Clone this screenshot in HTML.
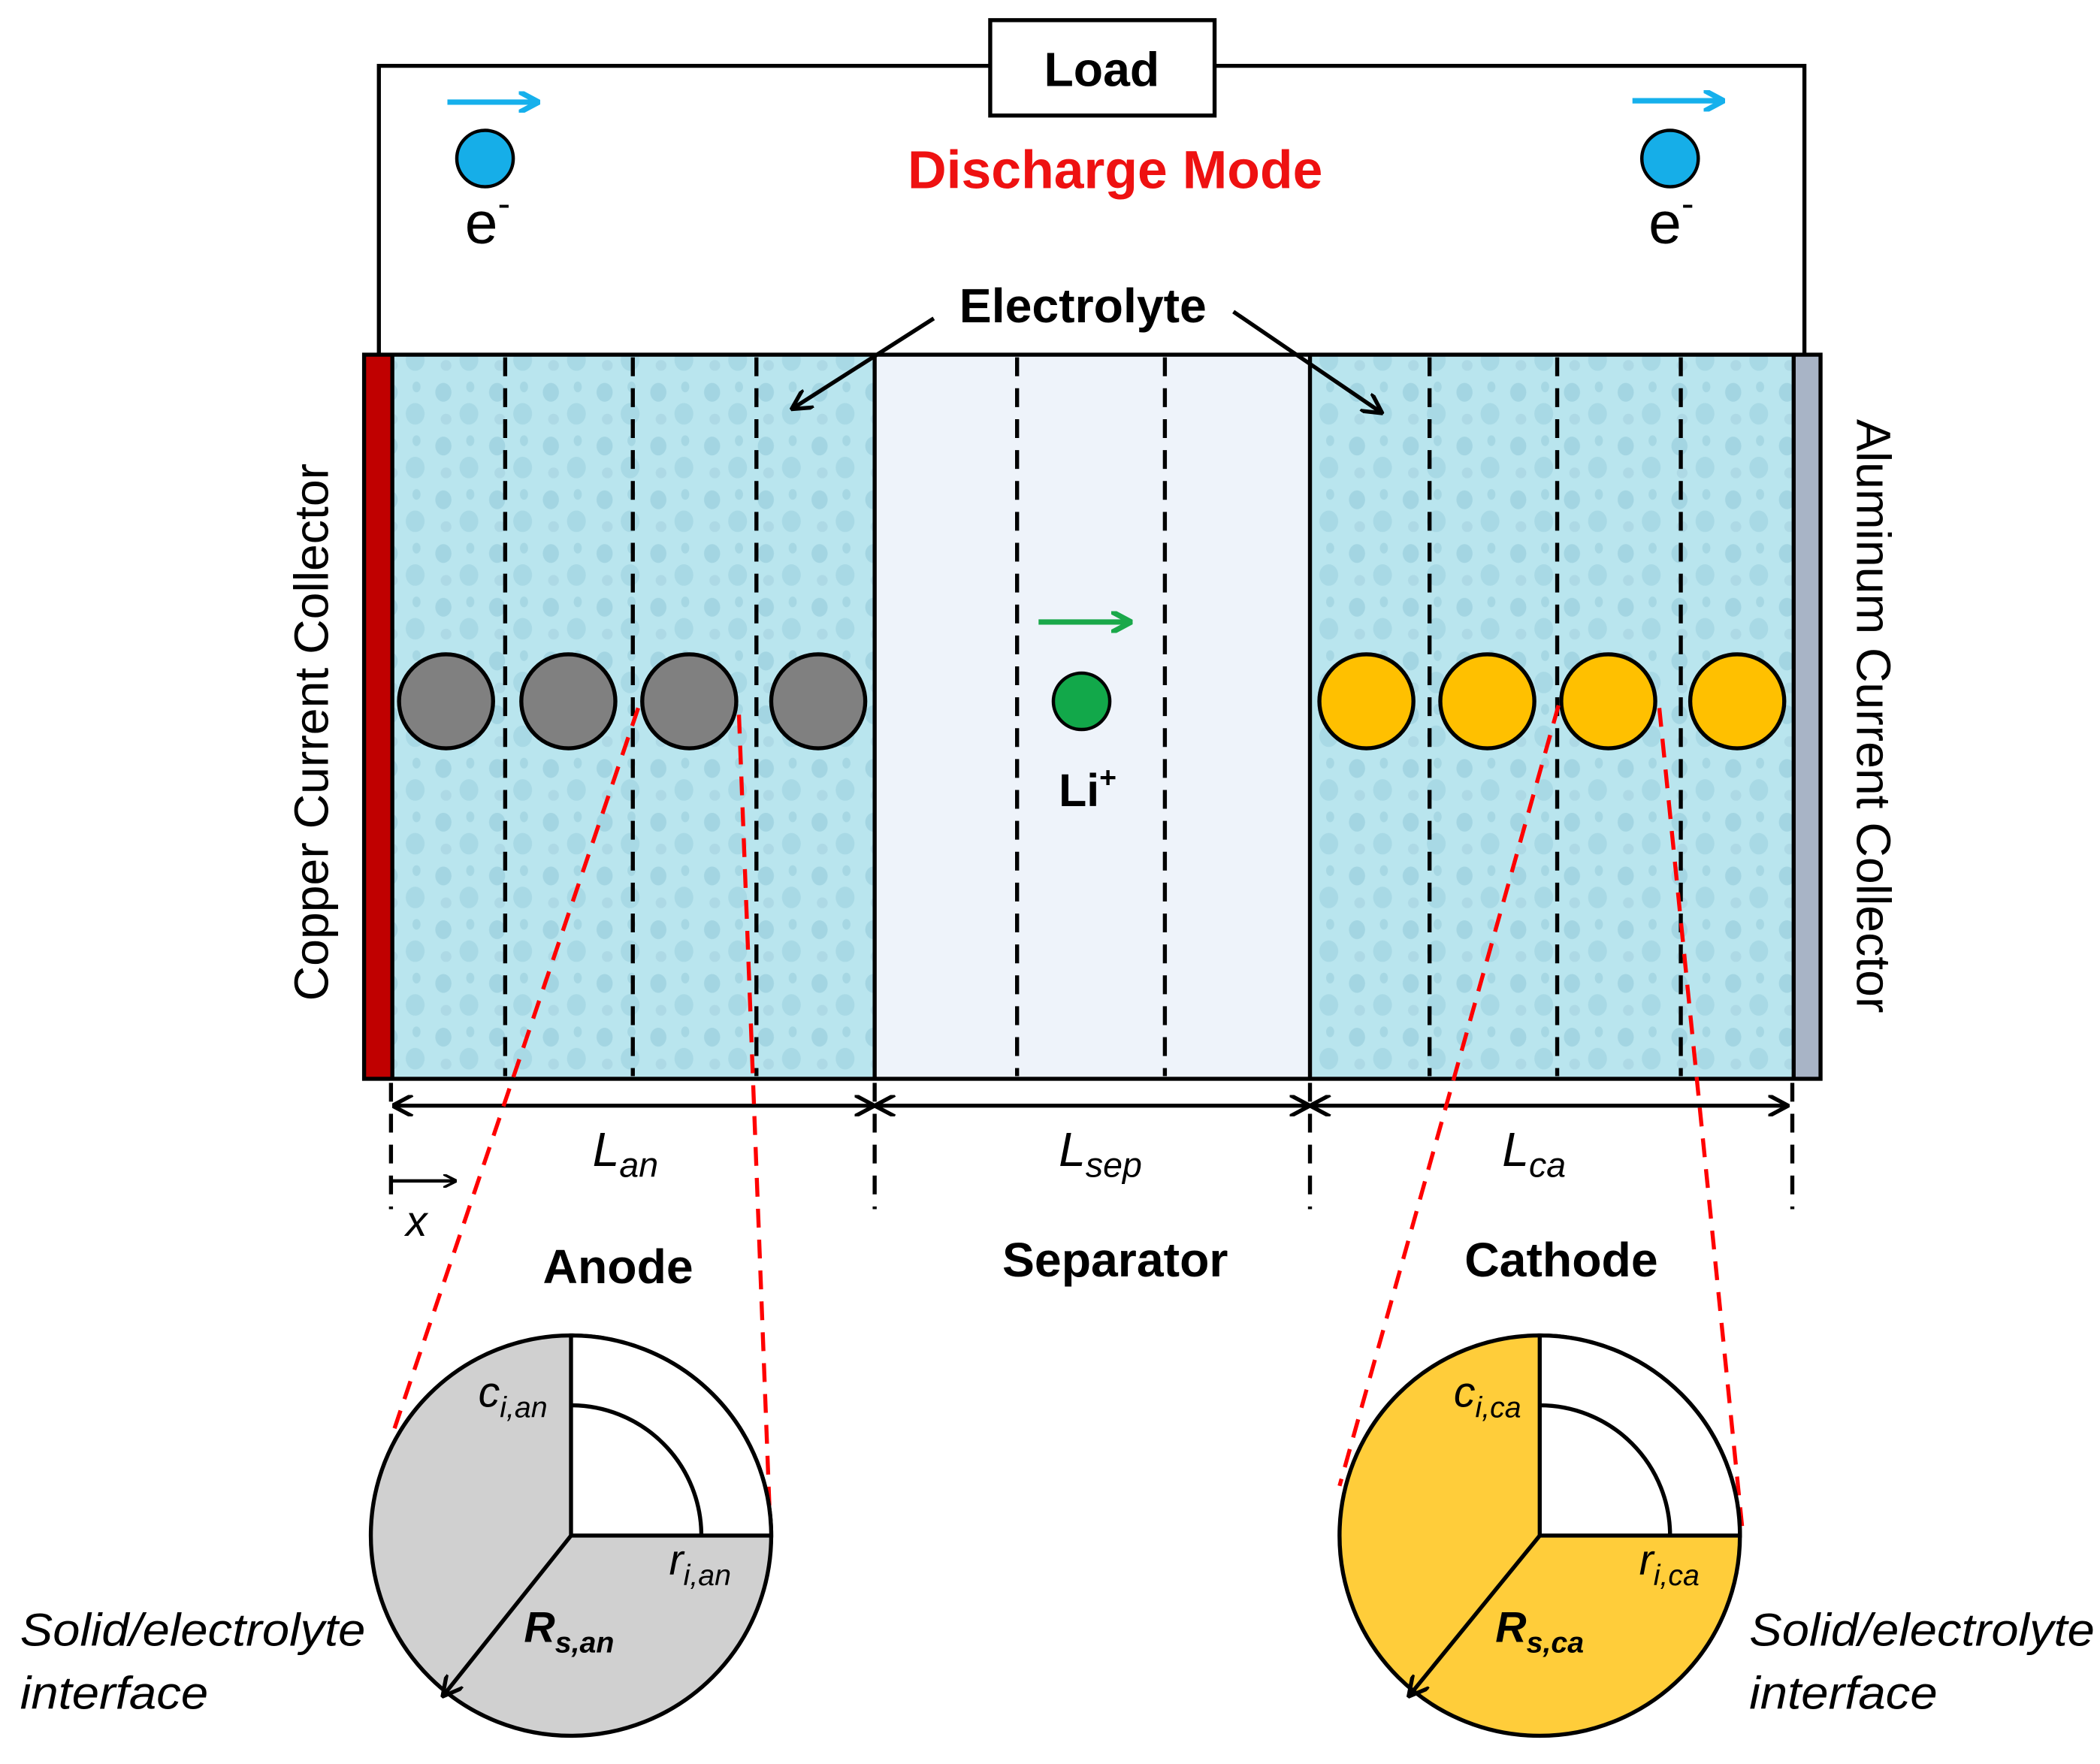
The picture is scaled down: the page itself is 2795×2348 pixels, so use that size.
<!DOCTYPE html>
<html><head><meta charset="utf-8"><style>
html,body{margin:0;padding:0;background:#fff;}
svg{display:block;}
text{font-family:"Liberation Sans",sans-serif;}
</style></head><body>
<svg width="2795" height="2348" viewBox="0 0 1563 1313" preserveAspectRatio="none" xmlns="http://www.w3.org/2000/svg">
<defs>
<marker id="ab" markerWidth="10" markerHeight="10" refX="9" refY="5" orient="auto" markerUnits="userSpaceOnUse"><path d="M0,0 L10,5 L0,10" fill="none" stroke="#000" stroke-width="2"/></marker>
<marker id="ab2" markerWidth="16" markerHeight="16" refX="14" refY="8" orient="auto" markerUnits="userSpaceOnUse"><path d="M0,0 L15,8 L0,16" fill="none" stroke="#000" stroke-width="3"/></marker>
<marker id="ab2s" markerWidth="16" markerHeight="16" refX="1" refY="8" orient="auto" markerUnits="userSpaceOnUse"><path d="M15,0 L0,8 L15,16" fill="none" stroke="#000" stroke-width="3"/></marker>
<marker id="bl" markerWidth="16" markerHeight="16" refX="14" refY="8" orient="auto" markerUnits="userSpaceOnUse"><path d="M0,0 L15,8 L0,16" fill="none" stroke="#16b0ec" stroke-width="4"/></marker>
<marker id="gr" markerWidth="16" markerHeight="16" refX="14" refY="8" orient="auto" markerUnits="userSpaceOnUse"><path d="M0,0 L15,8 L0,16" fill="none" stroke="#1aa84a" stroke-width="4"/></marker>
<pattern id="drops" width="40" height="40" patternUnits="userSpaceOnUse">
<rect width="40" height="40" fill="#b9e5ee"/>
<ellipse cx="10" cy="12" rx="6" ry="7" fill="#a3d5e2"/>
<ellipse cx="29" cy="28" rx="7" ry="8" fill="#a8d9e5"/>
<ellipse cx="30" cy="8" rx="3" ry="4" fill="#a6d7e3"/>
<ellipse cx="12" cy="32" rx="4" ry="4" fill="#add9e5"/>
</pattern>
</defs>

<polyline points="282,263 282,49 737,49" fill="none" stroke="#000" stroke-width="3"/>
<polyline points="904,49 1343,49 1343,263" fill="none" stroke="#000" stroke-width="3"/>
<rect x="737" y="15" width="167" height="71" fill="#fff" stroke="#000" stroke-width="3"/>
<text x="820" y="64" font-size="36" font-weight="bold" text-anchor="middle">Load</text>
<text x="830" y="140" font-size="40" font-weight="bold" fill="#ee1111" text-anchor="middle">Discharge Mode</text>

<line x1="333" y1="76" x2="400" y2="76" stroke="#16b0ec" stroke-width="4" marker-end="url(#bl)"/>
<circle cx="361" cy="118" r="21" fill="#16aee8" stroke="#000" stroke-width="2.5"/>
<text x="346" y="181" font-size="44">e<tspan font-size="28" dy="-20">-</tspan></text>
<line x1="1215" y1="75" x2="1282" y2="75" stroke="#16b0ec" stroke-width="4" marker-end="url(#bl)"/>
<circle cx="1243" cy="118" r="21" fill="#16aee8" stroke="#000" stroke-width="2.5"/>
<text x="1227" y="181" font-size="44">e<tspan font-size="28" dy="-20">-</tspan></text>

<rect x="292" y="264" width="359" height="539" fill="url(#drops)"/>
<rect x="651" y="264" width="324" height="539" fill="#eef3fa"/>
<rect x="975" y="264" width="360" height="539" fill="url(#drops)"/>
<rect x="271" y="264" width="21" height="539" fill="#c00000"/>
<rect x="1335" y="264" width="20" height="539" fill="#a8b4c6"/>
<rect x="271" y="264" width="1084" height="539" fill="none" stroke="#000" stroke-width="3"/>
<line x1="292" y1="264" x2="292" y2="803" stroke="#000" stroke-width="3"/>
<line x1="651" y1="264" x2="651" y2="803" stroke="#000" stroke-width="3"/>
<line x1="975" y1="264" x2="975" y2="803" stroke="#000" stroke-width="3"/>
<line x1="1335" y1="264" x2="1335" y2="803" stroke="#000" stroke-width="3"/>
<g stroke="#000" stroke-width="3" stroke-dasharray="14,9">
<line x1="376" y1="266" x2="376" y2="801"/>
<line x1="471" y1="266" x2="471" y2="801"/>
<line x1="563" y1="266" x2="563" y2="801"/>
<line x1="757" y1="266" x2="757" y2="801"/>
<line x1="867" y1="266" x2="867" y2="801"/>
<line x1="1064" y1="266" x2="1064" y2="801"/>
<line x1="1159" y1="266" x2="1159" y2="801"/>
<line x1="1251" y1="266" x2="1251" y2="801"/>
</g>

<g fill="#808080" stroke="#000" stroke-width="3">
<circle cx="332" cy="522" r="35"/><circle cx="423" cy="522" r="35"/><circle cx="513" cy="522" r="35"/><circle cx="609" cy="522" r="35"/>
</g>
<g fill="#ffc000" stroke="#000" stroke-width="3">
<circle cx="1017" cy="522" r="35"/><circle cx="1107" cy="522" r="35"/><circle cx="1197" cy="522" r="35"/><circle cx="1293" cy="522" r="35"/>
</g>
<line x1="773" y1="463" x2="841" y2="463" stroke="#1aa84a" stroke-width="4" marker-end="url(#gr)"/>
<circle cx="805" cy="522" r="21" fill="#12a84a" stroke="#000" stroke-width="2.5"/>
<text x="788" y="600" font-size="34" font-weight="bold">Li<tspan font-size="22" dy="-14">+</tspan></text>

<text x="806" y="240" font-size="36" font-weight="bold" text-anchor="middle">Electrolyte</text>
<line x1="695" y1="237" x2="590" y2="304" stroke="#000" stroke-width="3" marker-end="url(#ab2)"/>
<line x1="918" y1="232" x2="1028" y2="307" stroke="#000" stroke-width="3" marker-end="url(#ab2)"/>

<text transform="translate(244,545) rotate(-90)" font-size="36" text-anchor="middle">Copper Current Collector</text>
<text transform="translate(1382,533) rotate(90)" font-size="36" text-anchor="middle">Aluminum Current Collector</text>

<g stroke="#000" stroke-width="3">
<line x1="293" y1="823" x2="650" y2="823" marker-end="url(#ab2)" marker-start="url(#ab2s)"/>
<line x1="652" y1="823" x2="974" y2="823" marker-end="url(#ab2)" marker-start="url(#ab2s)"/>
<line x1="976" y1="823" x2="1330" y2="823" marker-end="url(#ab2)" marker-start="url(#ab2s)"/>
</g>
<g stroke="#000" stroke-width="3" stroke-dasharray="14,9">
<line x1="291" y1="806" x2="291" y2="900"/>
<line x1="651" y1="806" x2="651" y2="900"/>
<line x1="975" y1="806" x2="975" y2="900"/>
<line x1="1334" y1="806" x2="1334" y2="900"/>
</g>
<text x="441" y="868" font-size="36" font-style="italic">L<tspan font-size="26" dy="8">an</tspan></text>
<text x="788" y="868" font-size="36" font-style="italic">L<tspan font-size="26" dy="8">sep</tspan></text>
<text x="1118" y="868" font-size="36" font-style="italic">L<tspan font-size="26" dy="8">ca</tspan></text>
<line x1="292" y1="879" x2="339" y2="879" stroke="#000" stroke-width="2.5" marker-end="url(#ab)"/>
<text x="302" y="920" font-size="32" font-style="italic">x</text>

<text x="460" y="955" font-size="36" font-weight="bold" text-anchor="middle">Anode</text>
<text x="830" y="950" font-size="36" font-weight="bold" text-anchor="middle">Separator</text>
<text x="1162" y="950" font-size="36" font-weight="bold" text-anchor="middle">Cathode</text>

<g stroke="#ff0000" stroke-width="3" stroke-dasharray="14,9">
<line x1="475" y1="527" x2="292" y2="1068"/>
<line x1="550" y1="532" x2="573" y2="1130"/>
<line x1="1160" y1="525" x2="997" y2="1106"/>
<line x1="1235" y1="527" x2="1297" y2="1140"/>
</g>

<circle cx="425" cy="1143" r="149" fill="#d0d0d0" stroke="#000" stroke-width="3"/>
<path d="M425,1143 L425,994 A149,149 0 0 1 574,1143 Z" fill="#fff" stroke="#000" stroke-width="3"/>
<path d="M425,1046 A97,97 0 0 1 522,1143" fill="none" stroke="#000" stroke-width="3"/>
<line x1="425" y1="1143" x2="330" y2="1262" stroke="#000" stroke-width="3" marker-end="url(#ab2)"/>
<text x="356" y="1047" font-size="32" font-style="italic">c<tspan font-size="22" dy="8">i,an</tspan></text>
<text x="498" y="1172" font-size="32" font-style="italic">r<tspan font-size="22" dy="8">i,an</tspan></text>
<text x="390" y="1222" font-size="32" font-style="italic" font-weight="bold">R<tspan font-size="22" dy="8">s,an</tspan></text>

<circle cx="1146" cy="1143" r="149" fill="#ffcd3a" stroke="#000" stroke-width="3"/>
<path d="M1146,1143 L1146,994 A149,149 0 0 1 1295,1143 Z" fill="#fff" stroke="#000" stroke-width="3"/>
<path d="M1146,1046 A97,97 0 0 1 1243,1143" fill="none" stroke="#000" stroke-width="3"/>
<line x1="1146" y1="1143" x2="1049" y2="1262" stroke="#000" stroke-width="3" marker-end="url(#ab2)"/>
<text x="1082" y="1047" font-size="32" font-style="italic">c<tspan font-size="22" dy="8">i,ca</tspan></text>
<text x="1220" y="1172" font-size="32" font-style="italic">r<tspan font-size="22" dy="8">i,ca</tspan></text>
<text x="1113" y="1222" font-size="32" font-style="italic" font-weight="bold">R<tspan font-size="22" dy="8">s,ca</tspan></text>

<text x="15" y="1225" font-size="34" font-style="italic" textLength="257" lengthAdjust="spacingAndGlyphs">Solid/electrolyte</text>
<text x="15" y="1272" font-size="34" font-style="italic" textLength="140" lengthAdjust="spacingAndGlyphs">interface</text>
<text x="1302" y="1225" font-size="34" font-style="italic" textLength="257" lengthAdjust="spacingAndGlyphs">Solid/electrolyte</text>
<text x="1302" y="1272" font-size="34" font-style="italic" textLength="140" lengthAdjust="spacingAndGlyphs">interface</text>
</svg>
</body></html>
